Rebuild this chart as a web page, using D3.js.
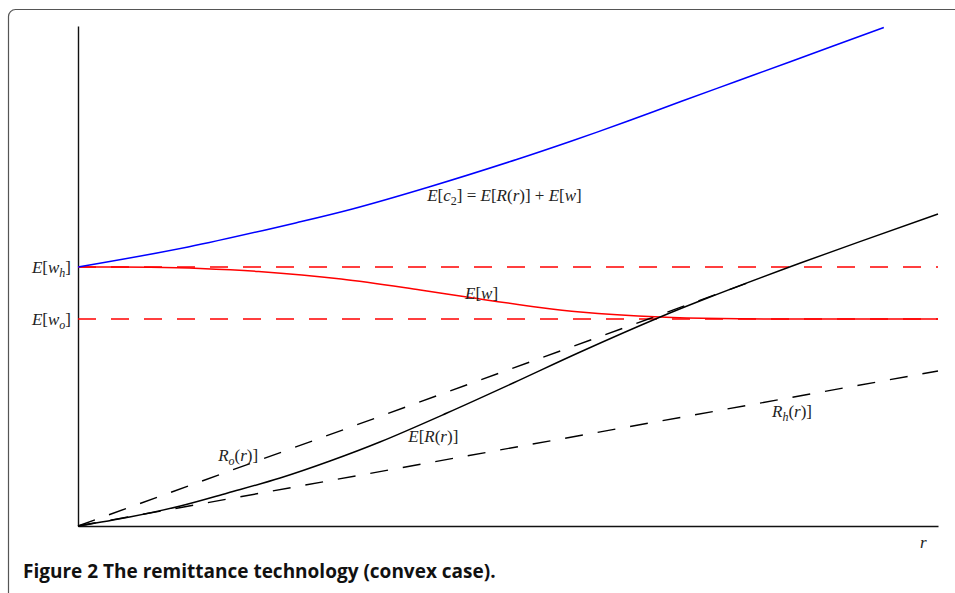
<!DOCTYPE html>
<html lang="en">
<head>
<meta charset="utf-8">
<script src="https://cdn.jsdelivr.net/npm/d3@7"></script>
<style>
  body { margin: 0; background: #fff; }
  svg { display: block; }
  .axis path { stroke: #111; stroke-width: 1.4; }
  .math { font-family: "Liberation Serif", "DejaVu Serif", serif; font-size: 17px; fill: #222; }
  .caption { font-family: "Open Sans", "Noto Sans", sans-serif; font-weight: bold; font-size: 19px; fill: #111; }
</style>
</head>
<body>
<script>
// values (r on x, value on y, both 0..10)
const expC2 = [[0, 5.18], [1.28, 5.58], [2.55, 6.07], [3.19, 6.34], [4.08, 6.78], [5.10, 7.33],
               [5.74, 7.70], [6.38, 8.09], [7.01, 8.49], [7.65, 8.89], [8.29, 9.29], [9.37, 9.97]]
const expR = [[0, 0], [0.60, 0.18], [1.19, 0.40], [1.74, 0.66], [2.35, 0.96], [2.93, 1.30], [3.51, 1.68],
              [4.29, 2.26], [5.06, 2.86], [5.84, 3.48], [6.77, 4.18], [7.23, 4.50], [8.40, 5.26], [10, 6.24]]
const expW = [[0, 5.18], [0.84, 5.174], [1.42, 5.15], [2.10, 5.09], [3.06, 4.94], [3.98, 4.72], [4.56, 4.57],
              [5.37, 4.37], [5.84, 4.28], [6.77, 4.18], [7.47, 4.148], [8.40, 4.14], [10, 4.14]]
const rO = [[0, 0], [7.93, 4.95]]
const rH = [[0, 0], [10, 3.1]]
const wH = 5.18
const wO = 4.14

const W = 955, H = 593

const svg = d3.select('body').append('svg')
    .attr('width', W)
    .attr('height', H)

// page frame
svg.append('rect')
    .attr('x', 8.5).attr('y', 9.5)
    .attr('width', 1000).attr('height', 700)
    .attr('rx', 7)
    .attr('fill', 'none')
    .attr('stroke', '#555')
    .attr('stroke-width', 1.2)

const x = d3.scaleLinear().domain([0, 10]).range([78, 938])
const y = d3.scaleLinear().domain([0, 10]).range([526, 26])

const line = d3.line()
    .x(function(d) { return x(d[0]) })
    .y(function(d) { return y(d[1]) })
    .curve(d3.curveCatmullRom.alpha(0.5))

// math-ish label built from parts: [text, kind]
function mathText(g, parts) {
    let shift = 0
    parts.forEach(function(p) {
        const t = g.append('tspan').text(p[0])
        let want = 0
        if (p[1] === 'i') t.attr('font-style', 'italic')
        if (p[1] === 'si' || p[1] === 'sr') {
            want = 4
            t.attr('font-size', '12px')
            if (p[1] === 'si') t.attr('font-style', 'italic')
        }
        if (want !== shift) { t.attr('dy', want - shift); shift = want }
    })
}

// axes
svg.append('g')
    .attr('class', 'axis')
    .attr('transform', 'translate(0,' + y(0) + ')')
    .call(d3.axisBottom(x).tickValues([]).tickSizeOuter(0))

const yAxis = svg.append('g')
    .attr('class', 'axis')
    .attr('transform', 'translate(' + x(0) + ',0)')
    .call(d3.axisLeft(y).tickValues([wO, wH]).tickSize(0).tickPadding(7).tickFormat(''))

yAxis.selectAll('.tick text')
    .attr('class', 'math')
    .attr('dy', '0.32em')
    .each(function(d) {
        mathText(d3.select(this), [['E', 'i'], ['[', 'r'], ['w', 'i'], [d === wH ? 'h' : 'o', 'si'], [']', 'r']])
    })

// dashed reference levels
;[wH, wO].forEach(function(v) {
    svg.append('path')
        .attr('d', line([[0, v], [10, v]]))
        .attr('fill', 'none')
        .attr('stroke', '#ff0000')
        .attr('stroke-width', 1.6)
        .attr('stroke-dasharray', '18,15')
})

// dashed R_o, R_h
;[rO, rH].forEach(function(s) {
    svg.append('path')
        .attr('d', line(s))
        .attr('fill', 'none')
        .attr('stroke', '#000')
        .attr('stroke-width', 1.4)
        .attr('stroke-dasharray', '18,15')
})

svg.append('path')
    .attr('d', line(expW))
    .attr('fill', 'none')
    .attr('stroke', '#ff0000')
    .attr('stroke-width', 1.5)

svg.append('path')
    .attr('d', line(expR))
    .attr('fill', 'none')
    .attr('stroke', '#000')
    .attr('stroke-width', 1.4)

svg.append('path')
    .attr('d', line(expC2))
    .attr('fill', 'none')
    .attr('stroke', '#0000ff')
    .attr('stroke-width', 1.5)

// curve labels
const labels = [
    { at: [4.06, 6.5], parts: [['E', 'i'], ['[', 'r'], ['c', 'i'], ['2', 'sr'], [']', 'r'], [' = ', 'r'], ['E', 'i'], ['[', 'r'],
        ['R', 'i'], ['(', 'r'], ['r', 'i'], [')]', 'r'], [' + ', 'r'], ['E', 'i'], ['[', 'r'], ['w', 'i'], [']', 'r']] },
    { at: [4.5, 4.54], parts: [['E', 'i'], ['[', 'r'], ['w', 'i'], [']', 'r']] },
    { at: [3.84, 1.68], parts: [['E', 'i'], ['[', 'r'], ['R', 'i'], ['(', 'r'], ['r', 'i'], [')]', 'r']] },
    { at: [1.63, 1.3], parts: [['R', 'i'], ['o', 'si'], ['(', 'r'], ['r', 'i'], [')]', 'r']] },
    { at: [8.07, 2.18], parts: [['R', 'i'], ['h', 'si'], ['(', 'r'], ['r', 'i'], [')]', 'r']] },
    { at: [9.79, -0.44], parts: [['r', 'i']] }
]

labels.forEach(function(l) {
    const t = svg.append('text')
        .attr('class', 'math')
        .attr('x', x(l.at[0]))
        .attr('y', y(l.at[1]))
    mathText(t, l.parts)
})

svg.append('text')
    .attr('class', 'caption')
    .attr('x', 23)
    .attr('y', 578)
    .text('Figure 2 The remittance technology (convex case).')
</script>
</body>
</html>
